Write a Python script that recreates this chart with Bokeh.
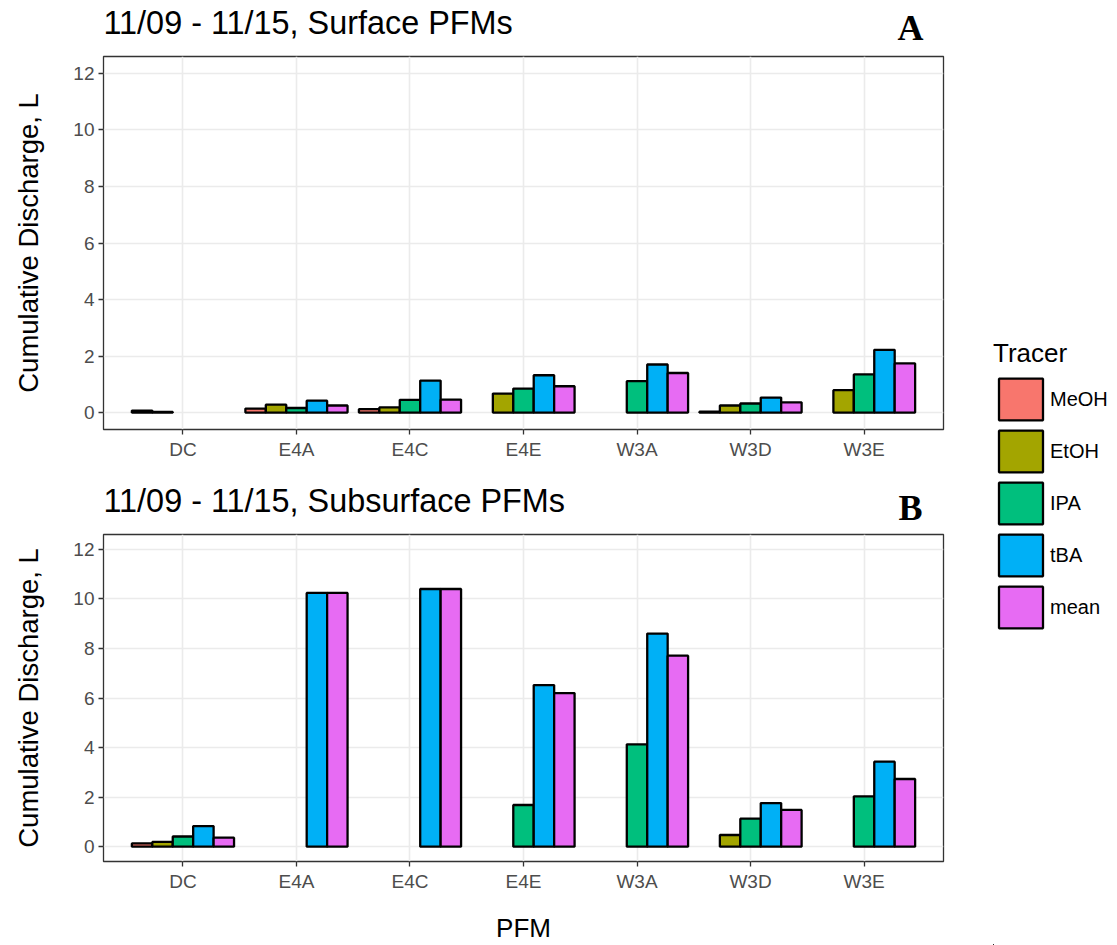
from bokeh.plotting import figure
from bokeh.models import (ColumnDataSource, FactorRange, Range1d, Legend, LegendItem,
                          Label, FixedTicker)
from bokeh.transform import dodge
from bokeh.layouts import row, column
from bokeh.embed import file_html
from bokeh.resources import INLINE

# ---------------- data ----------------
pfms = ["DC", "E4A", "E4C", "E4E", "W3A", "W3D", "W3E"]
tracers = ["MeOH", "EtOH", "IPA", "tBA", "mean"]
colors = ["#F8766D", "#A3A500", "#00BF7D", "#00B0F6", "#E76BF3"]

surface_meoh = [0.07, 0.14, 0.12, None, None, 0.03, None]
surface_etoh = [0.02, 0.28, 0.18, 0.67, None, 0.25, 0.79]
surface_ipa = [None, 0.16, 0.45, 0.85, 1.11, 0.32, 1.35]
surface_tba = [None, 0.42, 1.13, 1.32, 1.70, 0.53, 2.22]
surface_mean = [None, 0.25, 0.46, 0.93, 1.40, 0.36, 1.74]

sub_meoh = [0.13, None, None, None, None, None, None]
sub_etoh = [0.19, None, None, None, None, 0.47, None]
sub_ipa = [0.41, None, None, 1.68, 4.13, 1.13, 2.03]
sub_tba = [0.83, 10.24, 10.40, 6.52, 8.60, 1.76, 3.43]
sub_mean = [0.36, 10.24, 10.40, 6.20, 7.71, 1.48, 2.73]

y_ticks = [0, 2, 4, 6, 8, 10, 12]

FONT = "Liberation Sans"


def make_header(title, letter, height, title_base, letter_base):
    # the column layout aligns this frame with the panel frame below it
    h = figure(width=960, height=height, x_range=Range1d(0, 1), y_range=Range1d(0, 1),
               output_backend="svg", toolbar_location=None,
               x_axis_location=None, y_axis_location=None,
               min_border_left=0, min_border_right=0, min_border_top=0, min_border_bottom=0)
    h.title.visible = False
    h.outline_line_color = None
    h.grid.visible = False
    h.add_layout(Label(x=0, y=title_base, x_units="screen", y_units="screen",
                       text=title, text_font=FONT, text_font_size="32.4px",
                       text_color="black", text_align="left", text_baseline="alphabetic"))
    h.add_layout(Label(x=807, y=letter_base, x_units="screen", y_units="screen",
                       text=letter, text_font="Liberation Serif", text_font_style="bold",
                       text_font_size="36px", text_color="black",
                       text_align="center", text_baseline="alphabetic"))
    return h


def make_panel(series, height, border_bottom, xlabel):
    p = figure(width=960, height=height,
               x_range=FactorRange(factors=pfms, range_padding=0.2,
                                   range_padding_units="absolute"),
               y_range=Range1d(-0.6, 12.6),
               output_backend="svg", toolbar_location=None,
               min_border_left=103, min_border_right=17,
               min_border_top=2, min_border_bottom=border_bottom)
    p.title.visible = False

    for i, (name, vals) in enumerate(zip(tracers, series)):
        xs = [c for c, v in zip(pfms, vals) if v is not None]
        ys = [v for v in vals if v is not None]
        src = ColumnDataSource(dict(pfm=xs, val=ys))
        p.vbar(x=dodge("pfm", -0.36 + 0.18 * i, range=p.x_range), top="val", bottom=0,
               width=0.18, source=src, fill_color=colors[i], line_color="black",
               line_width=2.3)

    p.outline_line_color = "#333333"
    p.outline_line_width = 1.3
    p.background_fill_color = "white"
    p.border_fill_color = "white"

    for g in (p.xgrid, p.ygrid):
        g.grid_line_color = "#EBEBEB"
        g.grid_line_width = 1.6
    p.ygrid.ticker = FixedTicker(ticks=y_ticks)
    p.yaxis.ticker = FixedTicker(ticks=y_ticks)

    for ax in (p.xaxis, p.yaxis):
        ax.axis_line_color = None
        ax.major_tick_line_color = "#333333"
        ax.major_tick_line_width = 1.3
        ax.major_tick_out = 5
        ax.major_tick_in = 0
        ax.minor_tick_line_color = None
        ax.major_label_text_font = FONT
        ax.major_label_text_font_size = "19px"
        ax.major_label_text_color = "#4D4D4D"
        ax.major_label_standoff = 4
        ax.axis_label_text_font = FONT
        ax.axis_label_text_font_style = "normal"
        ax.axis_label_text_color = "black"

    p.yaxis.axis_label = "Cumulative Discharge, L"
    p.yaxis.axis_label_text_font_size = "27.5px"
    p.yaxis.axis_label_standoff = 26
    if xlabel:
        p.xaxis.axis_label = xlabel
        p.xaxis.axis_label_text_font_size = "26px"
        p.xaxis.axis_label_standoff = 18
    return p


hA = make_header("11/09 - 11/15, Surface PFMs", "A", 54, 32, 27)
pA = make_panel([surface_meoh, surface_etoh, surface_ipa, surface_tba, surface_mean],
                416, 41, None)
hB = make_header("11/09 - 11/15, Subsurface PFMs", "B", 62, 32, 25)
pB = make_panel([sub_meoh, sub_etoh, sub_ipa, sub_tba, sub_mean],
                413, 81, "PFM")

# ---------------- legend panel ----------------
pL = figure(width=157, height=945, x_range=Range1d(1, 2), y_range=Range1d(1, 2),
            output_backend="svg", toolbar_location=None,
            x_axis_location=None, y_axis_location=None,
            min_border_left=33, min_border_right=0, min_border_top=338, min_border_bottom=0)
pL.title.visible = False
pL.outline_line_color = None
pL.grid.visible = False
items = []
for name, col in zip(tracers, colors):
    src = ColumnDataSource(dict(tracer=[name], val=[0.0]))
    r = pL.vbar(x=0, top="val", bottom=0, width=0.1, source=src,
                fill_color=col, line_color="black", line_width=2.3)
    items.append(LegendItem(label=name, renderers=[r]))
leg = Legend(items=items, location="top_left", title="Tracer",
             glyph_width=55, glyph_height=52, spacing=-6, label_standoff=2,
             padding=0, margin=0, border_line_color=None, background_fill_alpha=0,
             label_text_font=FONT, label_text_font_size="20px", label_text_color="black",
             title_text_font=FONT, title_text_font_size="26px", title_text_font_style="normal",
             title_text_color="black", title_standoff=4)
pL.add_layout(leg)

layout = row(column(hA, pA, hB, pB), pL)
open("out.html", "w").write(file_html(layout, INLINE))
